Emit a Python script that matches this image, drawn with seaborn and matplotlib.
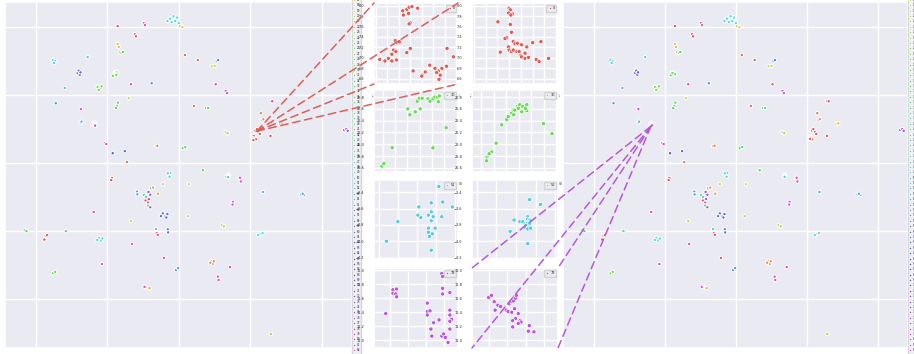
import matplotlib
matplotlib.use("Agg")
import matplotlib.pyplot as plt
import pandas as pd
import seaborn as sns
from matplotlib.patches import ConnectionPatch
from matplotlib.ticker import MultipleLocator

sns.set_theme(style="darkgrid")

# 100 classes, hls colours
n_classes = 100
class_names = [str(i) for i in range(n_classes)]
palette = dict(zip(class_names, sns.color_palette("hls", n_classes)))

# Background clusters, identical in both embeddings
bg_class = [48, 48, 48, 48, 48, 48, 48, 15, 15, 97, 88, 88, 95, 95, 12, 12, 10, 32, 32,
            50, 50, 50, 42, 70, 70, 70, 70, 2, 1, 18, 18, 60, 60, 52, 28, 28, 28, 28,
            94, 94, 58, 58, 80, 80, 17, 84, 34, 34, 34, 3, 36, 36, 53, 53, 90, 90, 66,
            64, 4, 6, 6, 35, 35, 22, 22, 33, 46, 46, 46, 46, 86, 86, 16, 14, 98, 98,
            56, 56, 74, 74, 40, 40, 92, 92, 92, 38, 38, 76, 76, 9, 9, 62, 62, 62, 62, 62,
            19, 82, 82, 54, 55, 55, 55, 93, 20, 21, 21, 31, 31, 37, 39, 96, 96, 96, 96,
            61, 61, 99, 99, 99, 47, 47, 47, 47, 91, 49, 49, 49, 89, 7, 7, 7, 7, 95, 57, 57,
            29, 29, 87, 87, 11, 11, 85, 23, 75, 75, 75, 5, 8, 8, 13, 13, 97, 0, 0, 0, 0]
bg_x = [-2.5, -1.5, -0.5, -2.0, -1.0, 0.0, -3.2, 0.3, 1.0, -17.1, -9.8, -9.5, -12.3, -12.0,
        -17.1, -16.8, -16.5, -16.0, -15.6,
        -35.2, -34.6, -34.9, -25.5, -28.3, -27.7, -28.0, -27.5, 1.7, 5.3, 9.2, 10.0, 10.6, 11.0,
        -31.9, -22.7, -22.0, -22.4, -21.6,
        -13.4, 10.3, -7.6, -34.4, 13.1, 13.5, -14.0, -27.4, -17.3, -17.0, -17.6, 4.2, 7.6, 8.2,
        -27.4, -27.2, -20.7, -20.3, -18.5,
        -15.1, -14.5, -6.4, -6.0, 1.1, 1.8, 13.1, 13.6, 6.7, -2.8, -2.4, -3.1, -2.6, 17.1, 17.3,
        2.8, -4.5, -18.7, -18.9,
        -11.7, -11.6, -8.5, -8.0, -9.8, -9.2, -9.3, -8.6, -4.2, -7.8, -8.6, -8.0, -8.4, -5.8, -7.2,
        -4.5, -3.8, -5.0, -3.2, -3.5,
        2.5, 15.1, 15.0, 23.5, 34.2, 35.0, 34.6, -23.8, -13.4, 12.0, 12.6, -43.1, -42.6, -31.6,
        -6.4, -6.2, -5.9, 25.7, 26.1,
        -3.1, -3.0, -37.2, -37.6, -36.8, -22.4, -21.8, -22.8, -21.4, -13.1, 22.7, 23.4, 22.2,
        -21.5, 9.2, 9.6, 8.8, 9.8, 14.3, -0.8, -0.2,
        -35.2, -34.6, 10.9, 11.1, -9.2, -8.2, -9.6, 25.7, 46.2, 46.8, 47.2, 22.9, 23.2, 23.6,
        28.3, 28.8, 25.6, 21.4, 22.2, 21.8, 22.6]
bg_y = [42.5, 43.2, 42.8, 41.5, 41.8, 41.2, 41.8, 40.3, 40.0, 40.3, 41.2, 40.6, 37.9, 37.3,
        35.0, 34.2, 32.6, 32.4, 32.7,
        30.3, 30.0, 29.5, 31.2, 26.5, 26.0, 27.2, 26.7, 31.8, 30.3, 28.5, 28.6, 30.0, 30.3,
        22.1, 22.4, 22.0, 21.5, 22.6,
        23.2, 23.2, 23.5, 17.6, 21.2, 20.6, 19.1, 15.9, 16.8, 17.8, 16.2, 16.8, 16.2, 16.2,
        11.8, 12.2, 5.9, 5.6, 2.9,
        3.5, 0.3, 5.0, 5.1, 4.4, 4.7, 9.1, 8.8, -2.1, -3.5, -2.9, -3.0, -4.0, -4.3, -5.4,
        -6.2, -6.2, -4.4, -5.0,
        -8.4, -9.2, -8.5, -9.3, -9.4, -10.0, -11.0, -11.6, -27.9, -7.4, -12.5, -13.0, -10.6, -9.0, -7.2,
        -14.8, -15.7, -15.6, -15.0, -16.0,
        -15.6, -11.4, -12.2, -8.5, -9.2, -9.4, -9.0, -14.4, -17.1, -18.3, -18.6, -19.7, -20.0, -20.0,
        -19.4, -20.6, -21.1, 18.2, 18.2,
        -19.5, -20.4, -21.4, -22.5, -21.2, -22.0, -22.8, -22.6, -22.2, -23.8, -20.9, -20.6, -21.2,
        -29.7, -28.8, -29.6, -29.3, -28.9, -30.6, -31.5, -30.9,
        -32.4, -32.0, -33.4, -34.4, -36.5, -36.8, -36.4, -50.3, 9.7, 10.0, 9.5, 14.7, 12.6, 12.9,
        11.5, 11.7, 8.0, 9.6, 9.2, 10.0, 8.6]

# Zoomed classes: left embedding / right embedding
c0_left_x = [20.67, 20.74, 20.78, 20.83, 20.77, 20.68, 20.80, 20.78, 20.93, 20.54, 20.58, 20.62,
             20.61, 20.51, 20.55, 20.48, 20.42, 20.36, 20.27, 20.48, 20.56, 20.74, 20.80, 21.29,
             21.14, 21.01, 21.00, 21.06, 21.23, 21.26, 21.32, 21.35, 21.30, 21.43, 21.44, 21.55, 20.85]
c0_left_y = [7.90, 7.93, 7.97, 7.98, 7.85, 7.82, 7.67, 7.65, 7.95, 7.33, 7.29, 7.29,
             7.31, 7.15, 7.12, 7.07, 6.99, 6.94, 6.97, 6.94, 6.96, 7.10, 7.18, 6.75,
             6.86, 6.67, 6.65, 6.73, 6.80, 6.72, 6.67, 6.80, 6.59, 6.84, 7.18, 7.02, 6.75]
c0_right_x = [20.80, 20.82, 20.79, 20.86, 20.83, 20.82, 20.61, 20.84, 20.76, 20.73, 20.79, 20.87,
              20.90, 20.94, 20.80, 20.84, 20.93, 20.97, 21.01, 21.10, 21.00, 21.01, 21.07, 21.07,
              21.13, 21.20, 21.34, 21.26, 21.31, 21.47, 20.65, 20.87]
c0_right_y = [7.95, 7.92, 7.86, 7.84, 7.82, 7.64, 7.69, 7.49, 7.39, 7.37, 7.21, 7.31,
              7.27, 7.28, 7.15, 7.12, 7.12, 7.12, 7.25, 7.21, 7.05, 7.02, 7.09, 6.99,
              7.01, 7.29, 7.31, 6.97, 6.93, 6.99, 7.11, 7.15]

c30_left_x = [-17.99, -17.95, -17.84, -17.80, -17.76, -17.70, -17.74, -17.58, -17.54, -17.48, -17.44,
              -17.39, -17.35, -17.37, -17.21, -18.31, -17.48, -18.50, -18.52, -18.46, -18.48]
c30_left_y = [26.60, 26.50, 26.55, 26.73, 26.78, 26.78, 26.60, 26.77, 26.73, 26.77, 26.80,
              26.80, 26.82, 26.72, 26.28, 25.94, 25.94, 25.65, 25.63, 25.68, 25.67]
c30_right_x = [-18.38, -18.39, -18.35, -18.32, -18.29, -18.20, -18.09, -17.99, -17.96, -17.89, -17.86,
               -17.83, -17.78, -17.73, -17.76, -17.67, -17.59, -17.59, -17.69, -17.62, -17.26, -17.09,
               -18.34, -17.85]
c30_right_y = [25.79, 25.72, 25.82, 25.84, 25.87, 26.02, 26.33, 26.42, 26.47, 26.53, 26.58,
               26.58, 26.64, 26.67, 26.61, 26.64, 26.67, 26.57, 26.55, 26.61, 26.35, 26.18,
               25.84, 26.50]

c51_left_x = [13.83, 13.87, 13.97, 13.62, 13.64, 13.61, 13.75, 13.75, 13.72, 13.77,
              13.75, 13.86, 13.40, 13.72, 13.79, 13.72, 13.76, 13.73, 13.28, 13.75]
c51_left_y = [-3.33, -3.52, -3.58, -3.58, -3.71, -3.68, -3.53, -3.64, -3.68, -3.70,
              -3.75, -3.70, -3.76, -3.84, -3.84, -3.89, -3.91, -3.94, -4.00, -4.11]
c51_right_x = [13.74, 13.85, 13.58, 13.64, 13.67, 13.72, 13.72, 13.74, 13.75, 13.70,
               13.72, 13.74, 13.70, 13.73, 13.74, 13.70, 13.72, 13.75, 13.54, 13.72]
c51_right_y = [-3.49, -3.55, -3.74, -3.76, -3.76, -3.70, -3.73, -3.74, -3.75, -3.78,
               -3.78, -3.78, -3.81, -3.83, -3.83, -3.84, -3.85, -3.84, -3.88, -4.03]

c78_left_x = [-23.97, -23.93, -23.97, -23.94, -23.93, -24.05, -23.59, -23.59, -23.56, -23.59,
              -23.52, -23.55, -23.54, -23.46, -23.43, -23.41, -23.42, -23.43, -23.42, -23.42,
              -23.34, -23.34, -23.34, -23.32, -23.34, -23.34, -23.36, -23.39]
c78_left_y = [11.72, 11.73, 11.67, 11.66, 11.62, 11.38, 11.53, 11.41, 11.42, 11.36,
              11.25, 11.16, 11.06, 11.29, 11.06, 11.09, 11.66, 11.95, 11.91, 11.74,
              11.68, 11.43, 11.36, 11.30, 11.27, 11.16, 10.97, 11.04]
c78_right_x = [-24.00, -23.97, -23.94, -23.90, -23.93, -23.87, -23.81, -23.78, -23.75, -23.73,
               -23.72, -23.71, -23.70, -23.79, -23.75, -23.72, -23.68, -23.71, -23.74, -23.74,
               -23.66, -23.65, -23.68, -23.56, -23.57, -23.51]
c78_right_y = [11.61, 11.64, 11.55, 11.50, 11.43, 11.48, 11.43, 11.52, 11.55, 11.56,
               11.62, 11.60, 11.64, 11.41, 11.40, 11.45, 11.38, 11.31, 11.28, 11.19,
               11.28, 11.26, 11.24, 11.21, 11.13, 11.12]

zoom_labels = ["0", "30", "51", "78"]
zoom_left = {"0": (c0_left_x, c0_left_y), "30": (c30_left_x, c30_left_y),
             "51": (c51_left_x, c51_left_y), "78": (c78_left_x, c78_left_y)}
zoom_right = {"0": (c0_right_x, c0_right_y), "30": (c30_right_x, c30_right_y),
              "51": (c51_right_x, c51_right_y), "78": (c78_right_x, c78_right_y)}
zoom_xlim = {"0": (20.17, 21.63), "30": (-18.68, -16.97), "51": (13.15, 14.03), "78": (-24.18, -23.25)}
zoom_ylim = {"0": (6.5, 8.05), "30": (25.53, 26.92), "51": (-4.23, -3.25), "78": (10.89, 12.03)}
zoom_xstep = {"0": 0.2, "30": 0.25, "51": 0.2, "78": 0.2}
zoom_ystep = {"0": 0.2, "30": 0.2, "51": 0.2, "78": 0.2}

# where the dashed lines start in the big panels
anchor_left = ("0", (21.8, 9.4))
anchor_right = ("78", (-23.9, 10.8))


def make_frame(zoom):
    parts = [pd.DataFrame({"x": bg_x, "y": bg_y, "label": [str(c) for c in bg_class]})]
    for lab in zoom_labels:
        xs, ys = zoom[lab]
        parts.append(pd.DataFrame({"x": xs, "y": ys, "label": lab}))
    return pd.concat(parts, ignore_index=True)


W, H = 914, 354
fig = plt.figure(figsize=(W / 100, H / 100), dpi=100)


def px_rect(x0, y0, x1, y1):
    return [x0 / W, 1 - y1 / H, (x1 - x0) / W, (y1 - y0) / H]


def big_panel(rect, zoom):
    ax = fig.add_axes(rect)
    df = make_frame(zoom)
    sns.scatterplot(data=df, x="x", y="y", hue="label", hue_order=class_names,
                    palette=palette, s=6, linewidth=0.7, edgecolor="white",
                    legend="full", ax=ax)
    ax.set_xlim(-48.6, 48.4)
    ax.set_ylim(-54.4, 47.4)
    ax.xaxis.set_major_locator(MultipleLocator(20))
    ax.yaxis.set_major_locator(MultipleLocator(20))
    ax.set_xlabel("")
    ax.set_ylabel("")
    ax.tick_params(labelsize=2, pad=1)
    ax.legend(loc="center left", bbox_to_anchor=(1.0, 0.5), fontsize=2.0,
              markerscale=0.8, handlelength=0.8, handletextpad=0.4,
              labelspacing=0.5, borderpad=0.3, borderaxespad=0.1)
    return ax


ax_left = big_panel(px_rect(5, 2, 352, 348), zoom_left)
ax_right = big_panel(px_rect(563, 2, 908, 348), zoom_right)

row_px = [(3, 84), (90, 172), (180, 260), (268, 348)]
col_px = [(374, 458), (472, 558)]
insets = {}
for r, lab in enumerate(zoom_labels):
    for c, zoom in enumerate([zoom_left, zoom_right]):
        ax = fig.add_axes(px_rect(col_px[c][0], row_px[r][0], col_px[c][1], row_px[r][1]))
        xs, ys = zoom[lab]
        sns.scatterplot(x=xs, y=ys, hue=[lab] * len(xs), palette=palette,
                        s=9, linewidth=0.5, edgecolor="white", ax=ax)
        ax.set_xlim(*zoom_xlim[lab])
        ax.set_ylim(*zoom_ylim[lab])
        ax.xaxis.set_major_locator(MultipleLocator(zoom_xstep[lab]))
        ax.yaxis.set_major_locator(MultipleLocator(zoom_ystep[lab]))
        ax.ticklabel_format(useOffset=False)
        ax.tick_params(labelsize=2.5, pad=1)
        ax.legend(loc="upper right", fontsize=2.5, markerscale=0.6,
                  handlelength=1.0, handletextpad=0.4, borderpad=0.4)
        insets[(lab, c)] = ax

# dashed connectors from a cluster in a big panel to the corners of its zoom panel
corners = [(0, 0), (1, 0), (0, 1), (1, 1)]
for big_ax, (lab, anchor), c in [(ax_left, anchor_left, 0), (ax_right, anchor_right, 1)]:
    target = insets[(lab, c)]
    for corner in corners:
        con = ConnectionPatch(xyA=anchor, coordsA=big_ax.transData,
                              xyB=corner, coordsB=target.transAxes,
                              color=palette[lab], linestyle=(0, (5, 3)),
                              linewidth=1.1, zorder=20)
        fig.add_artist(con)

fig.savefig("out.png", dpi=100)
